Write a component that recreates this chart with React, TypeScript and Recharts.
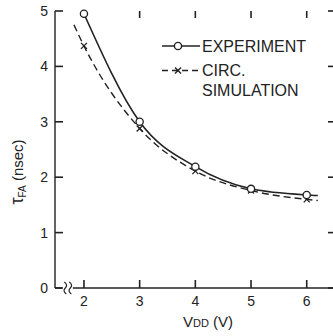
import React from "react";
import {
  ComposedChart,
  Line,
  Scatter,
  XAxis,
  YAxis,
  ReferenceDot,
} from "recharts";

// Supply voltage (V)
const vdd = [2, 3, 4, 5, 6];
// Measured full-adder delay (nsec)
const experiment = [4.95, 3.0, 2.19, 1.79, 1.68];
// Circuit simulation delay (nsec)
const simulation = [4.37, 2.88, 2.11, 1.76, 1.6];

// Drawn curve extents
const expCurveX = [2, 3, 4, 5, 6, 6.2];
const expCurveY = [4.95, 3.0, 2.19, 1.79, 1.68, 1.67];
const simCurveX = [1.82, 2, 3, 4, 5, 6, 6.2];
const simCurveY = [4.75, 4.37, 2.88, 2.11, 1.76, 1.6, 1.58];

const xTicks = [2, 3, 4, 5, 6];
const yTicks = [0, 1, 2, 3, 4, 5];

const X_MIN = 1.48;
const X_MAX = 6.49;
const Y_MIN = 0;
const Y_MAX = 5;

const expPoints = vdd.map((x, i) => ({ x, y: experiment[i] }));
const simPoints = vdd.map((x, i) => ({ x, y: simulation[i] }));
const expCurve = expCurveX.map((x, i) => ({ x, y: expCurveY[i] }));
const simCurve = simCurveX.map((x, i) => ({ x, y: simCurveY[i] }));
const leftTickPts = yTicks.map((y) => ({ x: X_MIN, y }));
const rightTickPts = yTicks.map((y) => ({ x: X_MAX, y }));
const bottomTickPts = xTicks.map((x) => ({ x, y: Y_MIN }));
const topTickPts = xTicks.map((x) => ({ x, y: Y_MAX }));

const INK = "#222";
const FONT = "'Liberation Sans', Arial, sans-serif";

const CircleMark = (p: any) => (
  <circle cx={p.cx} cy={p.cy} r={3.6} fill="#fff" stroke={INK} strokeWidth={1.3} />
);
const CrossMark = (p: any) => (
  <g stroke={INK} strokeWidth={1.3}>
    <line x1={p.cx - 3} y1={p.cy - 3} x2={p.cx + 3} y2={p.cy + 3} />
    <line x1={p.cx - 3} y1={p.cy + 3} x2={p.cx + 3} y2={p.cy - 3} />
  </g>
);
// inward tick marks drawn at axis positions
const LeftTickShape = (p: any) => (
  <path d={`M${p.cx},${p.cy}h8`} stroke={INK} strokeWidth={1.6} fill="none" />
);
const RightTickShape = (p: any) => (
  <path d={`M${p.cx},${p.cy}h-6`} stroke={INK} strokeWidth={1.6} fill="none" />
);
const BottomTickShape = (p: any) => (
  <path d={`M${p.cx},${p.cy}v-8`} stroke={INK} strokeWidth={1.6} fill="none" />
);
const TopTickShape = (p: any) => (
  <path d={`M${p.cx},${p.cy}v7`} stroke={INK} strokeWidth={1.6} fill="none" />
);

const BreakMark = (p: any) => {
  const cx = p.cx;
  const cy = p.cy;
  const s = (x: number) =>
    `M${x - 1},${cy - 6} Q${x + 3},${cy - 3} ${x},${cy} Q${x - 3},${cy + 3} ${x + 1},${cy + 6}`;
  return (
    <g>
      <rect x={cx - 5} y={cy - 2} width={10} height={4} fill="#fff" />
      <path d={s(cx - 2.5)} fill="none" stroke={INK} strokeWidth={1.2} />
      <path d={s(cx + 2.5)} fill="none" stroke={INK} strokeWidth={1.2} />
    </g>
  );
};

const LeftTick = (p: any) => (
  <text x={Number(p.x) - 7} y={Number(p.y) + 5} textAnchor="end" fill={INK} fontFamily={FONT} fontSize={14}>
    {p.payload.value}
  </text>
);
const BottomTick = (p: any) => (
  <text x={Number(p.x)} y={Number(p.y) + 18} textAnchor="middle" fill={INK} fontFamily={FONT} fontSize={14}>
    {p.payload.value}
  </text>
);

const LegendBox = () => (
  <div style={{ position: "absolute", left: 158, top: 34 }}>
    <svg width={170} height={70} style={{ display: "block" }}>
      <g stroke={INK} strokeWidth={1.4}>
        <line x1={4} y1={12} x2={42} y2={12} />
        <circle cx={20} cy={12} r={3.6} fill="#fff" />
        <line x1={4} y1={36.5} x2={42} y2={36.5} strokeDasharray="6 4" />
        <line x1={17} y1={33.5} x2={23} y2={39.5} />
        <line x1={17} y1={39.5} x2={23} y2={33.5} />
      </g>
      <g fill={INK} fontFamily={FONT} fontSize={16}>
        <text x={44} y={17.8}>EXPERIMENT</text>
        <text x={44} y={42.3}>CIRC.</text>
        <text x={44} y={62.3}>SIMULATION</text>
      </g>
    </svg>
  </div>
);

const XLabel = () => (
  <text x={208} y={327} textAnchor="middle" fill={INK} fontFamily={FONT} fontSize={15}>
    <tspan>V</tspan>
    <tspan fontSize={11}>DD</tspan>
    <tspan>  (V)</tspan>
  </text>
);

const YLabel = () => (
  <text
    x={0}
    y={0}
    transform="translate(23,172) rotate(-90)"
    textAnchor="middle"
    fill={INK}
    fontFamily={FONT}
    fontSize={15}
  >
    <tspan fontSize={18}>τ</tspan>
    <tspan fontSize={10} dy={3}>FA</tspan>
    <tspan dy={-3}>{"  (nsec)"}</tspan>
  </text>
);

const axisLine = { stroke: INK, strokeWidth: 1.4 };

export default function App() {
  return (
    <div
      style={{
        position: "absolute",
        left: 0,
        top: 0,
        width: 333,
        height: 336,
        overflow: "hidden",
        background: "#fff",
      }}
    >
      <ComposedChart
        width={336}
        height={336}
        margin={{ top: 11, right: 2, bottom: 0, left: 15 }}
      >
        <XAxis
          xAxisId={0}
          type="number"
          dataKey="x"
          domain={[X_MIN, X_MAX]}
          ticks={xTicks}
          height={48}
          tickSize={0}
          tickMargin={0}
          axisLine={axisLine}
          tickLine={false}
          tick={BottomTick}
          label={<XLabel />}
        />
        <XAxis
          xAxisId="top"
          orientation="top"
          type="number"
          dataKey="x"
          domain={[X_MIN, X_MAX]}
          ticks={xTicks}
          height={0}
          tickSize={0}
          axisLine={axisLine}
          tickLine={false}
          tick={false}
        />
        <YAxis
          yAxisId={0}
          type="number"
          dataKey="y"
          domain={[Y_MIN, Y_MAX]}
          ticks={yTicks}
          width={40}
          tickSize={0}
          tickMargin={0}
          axisLine={axisLine}
          tickLine={false}
          tick={LeftTick}
          label={<YLabel />}
        />
        <YAxis
          yAxisId="r"
          orientation="right"
          type="number"
          dataKey="y"
          domain={[Y_MIN, Y_MAX]}
          ticks={yTicks}
          width={0}
          tickSize={0}
          axisLine={axisLine}
          tickLine={false}
          tick={false}
        />
        <Scatter data={leftTickPts} dataKey="y" shape={LeftTickShape} isAnimationActive={false} />
        <Scatter data={rightTickPts} dataKey="y" shape={RightTickShape} isAnimationActive={false} />
        <Scatter data={bottomTickPts} dataKey="y" shape={BottomTickShape} isAnimationActive={false} />
        <Scatter data={topTickPts} dataKey="y" shape={TopTickShape} isAnimationActive={false} />
        <Line
          data={expCurve}
          dataKey="y"
          type="monotone"
          stroke={INK}
          strokeWidth={1.6}
          dot={false}
          activeDot={false}
          isAnimationActive={false}
        />
        <Line
          data={simCurve}
          dataKey="y"
          type="monotone"
          stroke={INK}
          strokeWidth={1.4}
          strokeDasharray="7 4"
          dot={false}
          activeDot={false}
          isAnimationActive={false}
        />
        <Scatter data={simPoints} dataKey="y" shape={CrossMark} isAnimationActive={false} />
        <Scatter data={expPoints} dataKey="y" shape={CircleMark} isAnimationActive={false} />
        <ReferenceDot x={1.71} y={0} ifOverflow="visible" shape={BreakMark} />
      </ComposedChart>
      <LegendBox />
    </div>
  );
}
